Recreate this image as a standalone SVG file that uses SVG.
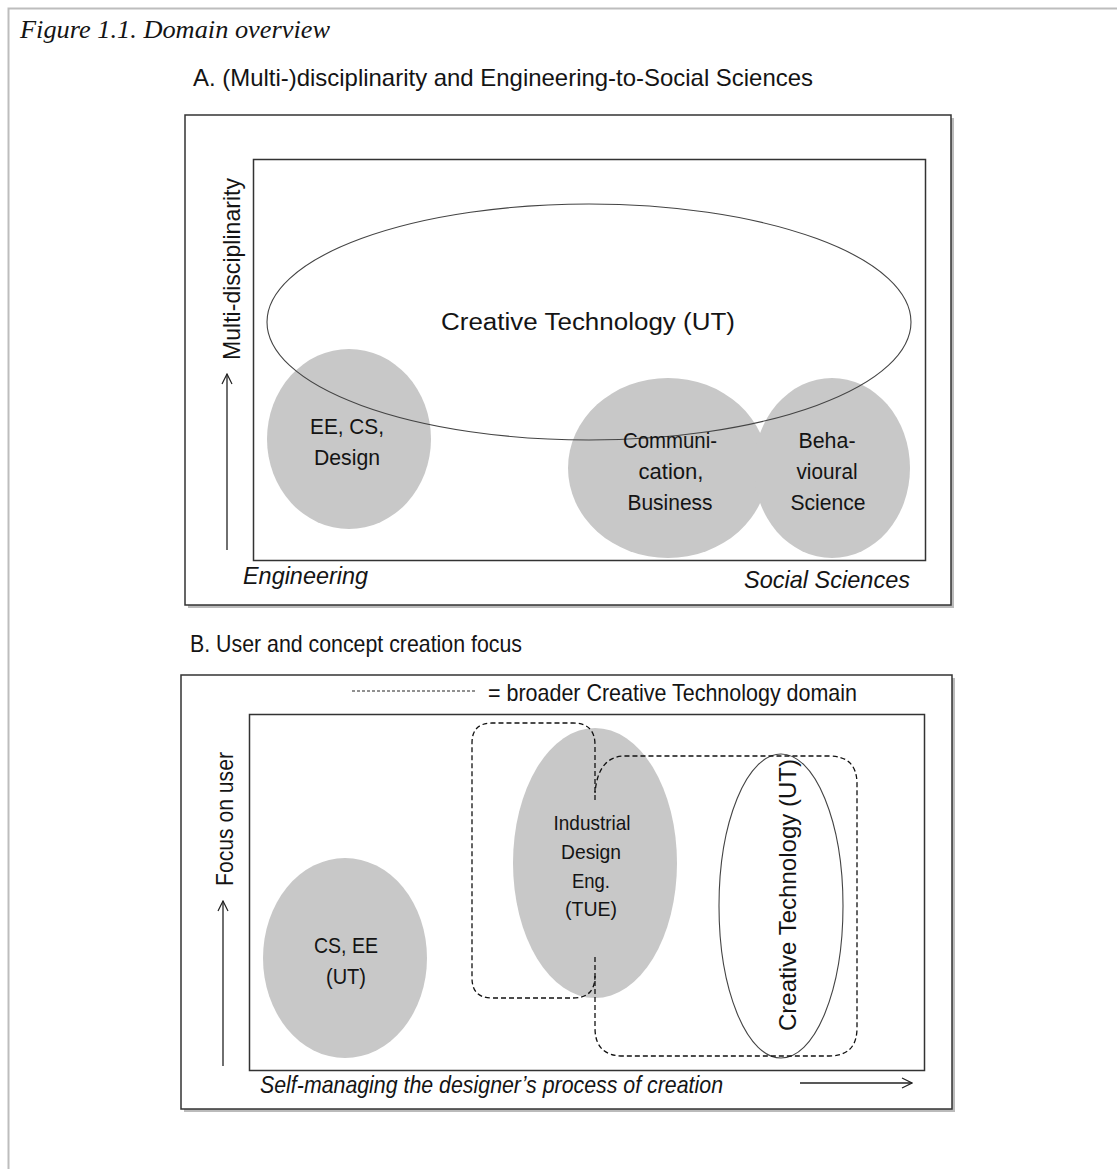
<svg xmlns="http://www.w3.org/2000/svg" width="1117" height="1169" viewBox="0 0 1117 1169">
<defs>
<marker id="open" viewBox="0 0 12 12" refX="11" refY="6" markerWidth="12" markerHeight="12" markerUnits="userSpaceOnUse" orient="auto">
<polyline points="1,1 11,6 1,11" fill="none" stroke="#222" stroke-width="1.2"/>
</marker>
</defs>
<style>
.t{font-family:"Liberation Sans",Arial,sans-serif;fill:#141414}
.i{font-style:italic}
.box{fill:#fff;stroke:#333;stroke-width:1.5}
.shadow{fill:#bbb;stroke:none}
.inner{fill:none;stroke:#333;stroke-width:1.5}
.blob{fill:#c8c8c8;stroke:none}
.ring{fill:none;stroke:#444;stroke-width:1.1}
.dash{fill:none;stroke:#111;stroke-width:1.3;stroke-dasharray:5 3}
.legend{fill:none;stroke:#222;stroke-width:1;stroke-dasharray:3 2}
.axis{stroke:#222;stroke-width:1.3;fill:none}
</style>
<rect width="1117" height="1169" fill="#fff"/>
<path d="M8.5,1169 V8.5 H1117" fill="none" stroke="#bdbdbd" stroke-width="2"/>
<text class="t" x="20" y="38" style="font-family:'Liberation Serif','Times New Roman',serif;font-style:italic" font-size="25" textLength="310" lengthAdjust="spacingAndGlyphs">Figure 1.1. Domain overview</text>

<g id="panelA">
<rect class="shadow" x="188" y="118" width="766" height="490"/>
<rect class="box" x="185" y="115" width="766" height="490"/>
<text class="t" x="193" y="86" font-size="24" textLength="620" lengthAdjust="spacingAndGlyphs">A. (Multi-)disciplinarity and  Engineering-to-Social Sciences</text>
<rect class="inner" x="253.5" y="159.5" width="672" height="401"/>
</g>

<g id="node-eecs">
<ellipse class="blob" cx="349" cy="439" rx="82" ry="90"/>
<text class="t" x="347" y="434" font-size="22" text-anchor="middle" textLength="74" lengthAdjust="spacingAndGlyphs">EE, CS,</text>
<text class="t" x="347" y="465" font-size="22" text-anchor="middle" textLength="66" lengthAdjust="spacingAndGlyphs">Design</text>
</g>
<g id="node-comm">
<ellipse class="blob" cx="668" cy="468" rx="100" ry="90"/>
</g>
<g id="node-beh">
<ellipse class="blob" cx="832" cy="468" rx="78" ry="90"/>
</g>
<g id="node-ctA">
<ellipse class="ring" cx="589" cy="322" rx="322" ry="118"/>
<text class="t" x="588" y="330" font-size="23" text-anchor="middle" textLength="294" lengthAdjust="spacingAndGlyphs">Creative  Technology (UT)</text>
</g>
<g id="labels-comm-beh">
<text class="t" x="670" y="448" font-size="22" text-anchor="middle" textLength="94" lengthAdjust="spacingAndGlyphs">Communi-</text>
<text class="t" x="671" y="479" font-size="22" text-anchor="middle" textLength="65" lengthAdjust="spacingAndGlyphs">cation,</text>
<text class="t" x="670" y="510" font-size="22" text-anchor="middle" textLength="85" lengthAdjust="spacingAndGlyphs">Business</text>
<text class="t" x="827" y="448" font-size="22" text-anchor="middle" textLength="57" lengthAdjust="spacingAndGlyphs">Beha-</text>
<text class="t" x="827" y="479" font-size="22" text-anchor="middle" textLength="61" lengthAdjust="spacingAndGlyphs">vioural</text>
<text class="t" x="828" y="510" font-size="22" text-anchor="middle" textLength="75" lengthAdjust="spacingAndGlyphs">Science</text>
</g>
<g id="axesA">
<text class="t" transform="translate(240,360) rotate(-90)" font-size="24" textLength="182" lengthAdjust="spacingAndGlyphs">Multi-disciplinarity</text>
<text class="t i" x="243" y="584" font-size="24" textLength="125" lengthAdjust="spacingAndGlyphs">Engineering</text>
<text class="t i" x="744" y="588" font-size="24" textLength="166" lengthAdjust="spacingAndGlyphs">Social Sciences</text>
</g>

<g id="panelB">
<rect class="shadow" x="184" y="678" width="771" height="434"/>
<rect class="box" x="181" y="675" width="771" height="434"/>
<text class="t" x="190" y="652" font-size="24" textLength="332" lengthAdjust="spacingAndGlyphs">B. User and concept creation focus</text>
<rect class="inner" x="249.5" y="714.5" width="675" height="356"/>
<line class="legend" x1="352" y1="691" x2="476" y2="691"/>
<text class="t" x="488" y="701" font-size="24" textLength="369" lengthAdjust="spacingAndGlyphs">= broader Creative Technology domain</text>
</g>

<g id="node-csee">
<ellipse class="blob" cx="345" cy="958" rx="82" ry="100"/>
<text class="t" x="346" y="953" font-size="22" text-anchor="middle" textLength="64" lengthAdjust="spacingAndGlyphs">CS, EE</text>
<text class="t" x="346" y="984" font-size="22" text-anchor="middle" textLength="40" lengthAdjust="spacingAndGlyphs">(UT)</text>
</g>
<g id="node-ide">
<ellipse class="blob" cx="595" cy="863" rx="82" ry="135"/>
<text class="t" x="592" y="830" font-size="21" text-anchor="middle" textLength="77" lengthAdjust="spacingAndGlyphs">Industrial</text>
<text class="t" x="591" y="859" font-size="21" text-anchor="middle" textLength="60" lengthAdjust="spacingAndGlyphs">Design</text>
<text class="t" x="591" y="888" font-size="21" text-anchor="middle" textLength="38" lengthAdjust="spacingAndGlyphs">Eng.</text>
<text class="t" x="591" y="916" font-size="21" text-anchor="middle" textLength="52" lengthAdjust="spacingAndGlyphs">(TUE)</text>
</g>
<g id="node-ctB">
<ellipse class="ring" cx="781" cy="906" rx="62" ry="152"/>
<text class="t" transform="translate(796,1031) rotate(-90)" font-size="24" textLength="272" lengthAdjust="spacingAndGlyphs">Creative  Technology (UT)</text>
</g>
<g id="connectors">
<path class="dash" d="M595,800 V745 Q595,723 573,723 H492 Q472,723 472,743 V978 Q472,998 492,998 H573 Q595,998 595,976"/>
<path class="dash" d="M595,957 V1028 Q595,1056 623,1056 H829 Q857,1056 857,1028 V784 Q857,756 829,756 H625 Q598,756 595,793"/>
<line class="axis" x1="227" y1="550" x2="227" y2="374" marker-end="url(#open)"/>
<line class="axis" x1="223" y1="1066" x2="223" y2="901" marker-end="url(#open)"/>
<line class="axis" x1="800" y1="1083" x2="912" y2="1083" marker-end="url(#open)"/>
</g>
<g id="axesB">
<text class="t" transform="translate(233,886) rotate(-90)" font-size="24" textLength="134" lengthAdjust="spacingAndGlyphs">Focus on user</text>
<text class="t i" x="260" y="1093" font-size="24" textLength="463" lengthAdjust="spacingAndGlyphs">Self-managing the designer’s process of creation</text>
</g>
</svg>
